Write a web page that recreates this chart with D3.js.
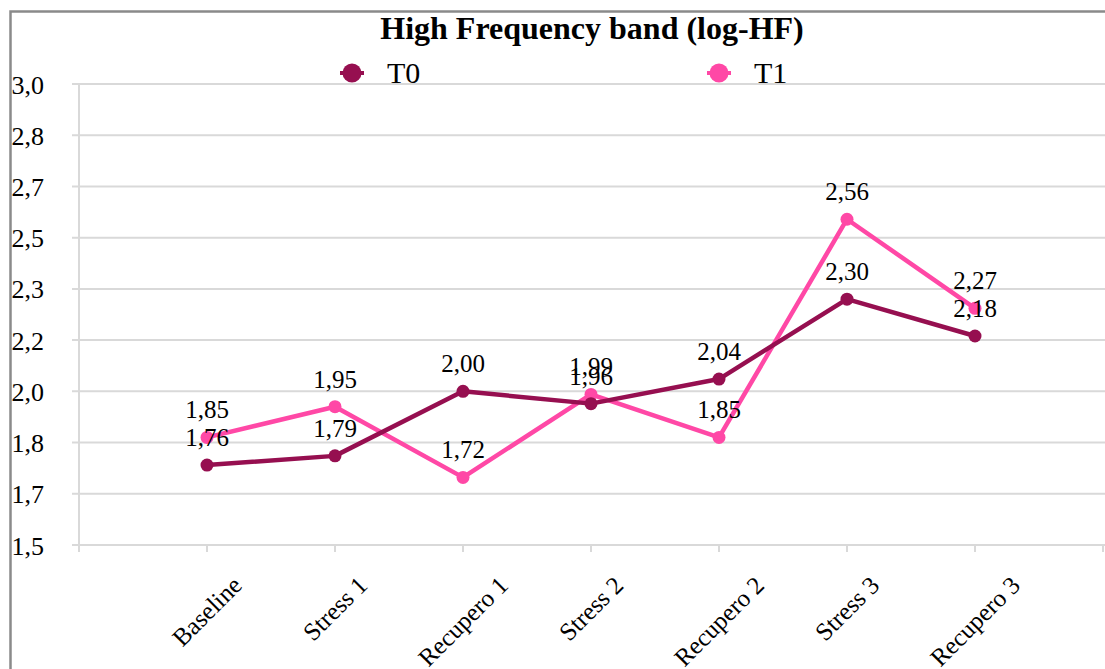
<!DOCTYPE html>
<html>
<head>
<meta charset="utf-8">
<script src="https://cdn.jsdelivr.net/npm/d3@7/dist/d3.min.js"></script>
<style>
  html, body { margin: 0; padding: 0; background: #fff; }
  svg { display: block; }
  text { font-family: "Liberation Serif", "Times New Roman", serif; fill: #000; }
</style>
</head>
<body>
<svg id="chart" width="1105" height="669"></svg>
<script>
// Phases of the protocol
const categories = ["Baseline", "Stress 1", "Recupero 1", "Stress 2", "Recupero 2", "Stress 3", "Recupero 3"];
// log-HF means per phase
const t0Values = [1.76, 1.79, 2.00, 1.96, 2.04, 2.30, 2.18];
const t1Values = [1.85, 1.95, 1.72, 1.99, 1.85, 2.56, 2.27];
// Value axis labels (ten evenly spaced ticks from 1.5 to 3.0)
const yTickLabels = ["1,5", "1,7", "1,8", "2,0", "2,2", "2,3", "2,5", "2,7", "2,8", "3,0"];
const seriesNames = ["T0", "T1"];
const seriesColors = ["#960f50", "#ff48a6"];

const svg = d3.select("#chart");
const plot = { left: 79, right: 1103, top: 84, bottom: 545 };

const yMin = 1.5, yMax = 3.0;
const y = d3.scaleLinear().domain([yMin, yMax]).range([plot.bottom, plot.top]);
const yTickValues = yTickLabels.map((_, i) => yMin + i * (yMax - yMin) / (yTickLabels.length - 1));

// Category positions: one empty slot before the first phase, one after the last
const x = d3.scaleLinear().domain([-1, categories.length]).range([plot.left, plot.right]);
const xTickIdx = d3.range(-1, categories.length + 1);

const gridColor = "#d9d9d9";

// Outer frame (left and top edges visible)
svg.append("path")
  .attr("d", "M10.5,669 L10.5,11.5 L1105,11.5")
  .attr("fill", "none").attr("stroke", "#8a8a8a").attr("stroke-width", 2.5);

// Horizontal gridlines with outward tick stubs
svg.append("g").selectAll("line").data(yTickValues).join("line")
  .attr("x1", plot.left - 7).attr("x2", 1105)
  .attr("y1", d => y(d)).attr("y2", d => y(d))
  .attr("stroke", gridColor).attr("stroke-width", 2);

// Value axis line
svg.append("line")
  .attr("x1", plot.left).attr("x2", plot.left)
  .attr("y1", plot.top).attr("y2", plot.bottom + 7)
  .attr("stroke", gridColor).attr("stroke-width", 2);

// Category axis tick marks
svg.append("g").selectAll("line").data(xTickIdx).join("line")
  .attr("x1", d => x(d)).attr("x2", d => x(d))
  .attr("y1", plot.bottom).attr("y2", plot.bottom + 7)
  .attr("stroke", gridColor).attr("stroke-width", 2);

// Value axis labels
svg.append("g").selectAll("text").data(yTickValues).join("text")
  .attr("x", 44).attr("y", d => y(d) + 9.5)
  .attr("text-anchor", "end")
  .style("font-size", "26px")
  .text((d, i) => yTickLabels[i]);

// Rotated category labels, centred on their tick
const xLabelSize = 25;
const xl = svg.append("g").selectAll("text").data(categories).join("text")
  .style("font-size", xLabelSize + "px")
  .attr("text-anchor", "middle")
  .attr("dominant-baseline", "central")
  .text(d => d);
xl.each(function(d, i) {
  const L = this.getComputedTextLength();
  const cx = x(i);
  const cy = 575 + (L + 0.66 * xLabelSize) * Math.SQRT1_2 / 2;
  d3.select(this).attr("x", cx).attr("y", cy)
    .attr("transform", `rotate(-45,${cx},${cy})`);
});

// Title
svg.append("text")
  .attr("x", 592).attr("y", 39)
  .attr("text-anchor", "middle")
  .style("font-size", "32px").style("font-weight", "bold")
  .text("High Frequency band (log-HF)");

// Legend
const legendX = [352, 719];
const legend = svg.append("g").selectAll("g").data(seriesNames).join("g")
  .attr("transform", (d, i) => `translate(${legendX[i]},73)`);
legend.append("line")
  .attr("x1", -12).attr("x2", 12)
  .attr("stroke", (d, i) => seriesColors[i]).attr("stroke-width", 4);
legend.append("circle").attr("r", 9.5).attr("fill", (d, i) => seriesColors[i]);
legend.append("text")
  .attr("x", 35).attr("y", 10)
  .style("font-size", "30px")
  .text(d => d);

// Series: T1 drawn first, T0 on top
const series = [
  { name: "T1", values: t1Values, color: seriesColors[1] },
  { name: "T0", values: t0Values, color: seriesColors[0] }
];
const line = d3.line().x((d, i) => x(i)).y(d => y(d));

series.forEach(s => {
  svg.append("path")
    .attr("d", line(s.values))
    .attr("fill", "none")
    .attr("stroke", s.color).attr("stroke-width", 4.5)
    .attr("stroke-linejoin", "round");
});
series.forEach(s => {
  svg.append("g").selectAll("circle").data(s.values).join("circle")
    .attr("cx", (d, i) => x(i)).attr("cy", d => y(d))
    .attr("r", 6.5).attr("fill", s.color);
});

// Data labels above each point
const fmt = v => d3.format(".2f")(v).replace(".", ",");
series.forEach(s => {
  svg.append("g").selectAll("text").data(s.values).join("text")
    .attr("x", (d, i) => x(i)).attr("y", d => y(d) - 19)
    .attr("text-anchor", "middle")
    .style("font-size", "25px")
    .text(d => fmt(d));
});
</script>
</body>
</html>
